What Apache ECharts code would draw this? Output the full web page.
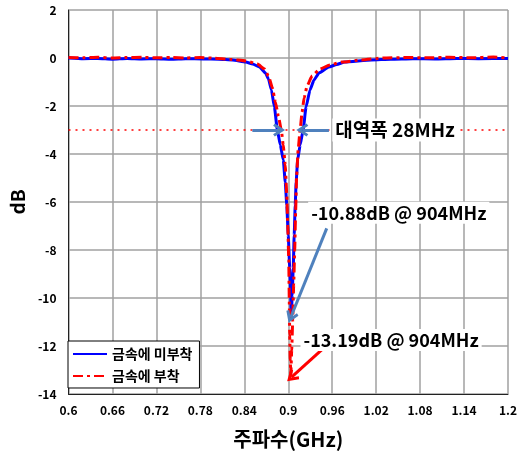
<!DOCTYPE html>
<html>
<head>
<meta charset="utf-8">
<script src="https://cdn.jsdelivr.net/npm/echarts@6/dist/echarts.min.js"></script>
<style>html,body{margin:0;padding:0;background:#fff}#c{width:523px;height:455px}</style>
</head>
<body>
<div id="c"></div>
<script>
// Frequency (GHz) and response (dB)
const freqBlue = [0.60,0.62,0.64,0.66,0.68,0.70,0.72,0.74,0.76,0.784,0.805,0.824,0.842,0.8514,0.8608,0.8689,0.873,0.877,0.8811,0.8851,0.8892,0.8932,0.8959,0.898,0.900,0.902,0.9034,0.904,0.9054,0.9068,0.9081,0.9095,0.9108,0.9128,0.9162,0.9203,0.9243,0.9297,0.9351,0.9419,0.9554,0.9662,0.977,1.0135,1.04,1.07,1.10,1.13,1.16,1.20];
const dbBlue   = [0.00,-0.03,-0.02,-0.05,-0.02,-0.04,-0.03,-0.05,-0.03,-0.04,-0.05,-0.08,-0.17,-0.25,-0.375,-0.625,-0.875,-1.33,-2.04,-3.0,-3.63,-4.25,-5.17,-6.13,-7.38,-8.75,-9.88,-10.88,-9.88,-8.75,-7.38,-6.13,-5.17,-4.25,-3.63,-3.0,-2.04,-1.33,-0.92,-0.625,-0.375,-0.27,-0.17,-0.08,-0.05,-0.03,-0.04,-0.02,-0.03,-0.02];
const freqRed  = [0.60,0.62,0.64,0.66,0.68,0.70,0.72,0.74,0.76,0.78,0.80,0.82,0.8419,0.8581,0.8676,0.873,0.8784,0.8824,0.8865,0.8905,0.8932,0.8959,0.898,0.8993,0.9007,0.9014,0.902,0.9027,0.9035,0.9047,0.9061,0.9074,0.9088,0.9101,0.9115,0.9135,0.9162,0.9189,0.9216,0.9257,0.9324,0.9432,0.9568,0.973,1.0,1.03,1.06,1.09,1.12,1.15,1.18,1.20];
const dbRed    = [0.02,0.01,0.03,0.00,0.02,0.03,0.01,0.02,0.00,0.02,-0.01,-0.05,-0.12,-0.25,-0.46,-0.75,-1.25,-1.83,-2.42,-3.0,-3.63,-4.46,-5.7,-6.96,-8.42,-10.08,-11.54,-12.58,-13.19,-12.17,-10.92,-9.46,-8.0,-6.33,-4.88,-3.83,-3.0,-2.25,-1.67,-1.17,-0.75,-0.46,-0.29,-0.17,-0.08,0.00,0.02,0.01,0.03,0.01,0.04,0.00];
const xTicks = {min:0.6, max:1.2, step:0.06};
const yTicks = {min:-14, max:2, step:2};
const names = ['금속에 미부착','금속에 부착'];
const bandLevel = -3;
const bandEdges = [0.8905, 0.9162];
const labelBand = '대역폭 28MHz';
const labelBlue = '-10.88dB @ 904MHz';
const labelRed  = '-13.19dB @ 904MHz';

const FONT = '"Noto Sans CJK KR", "Noto Sans", sans-serif';
const zip = (a,b) => a.map((v,i)=>[v,b[i]]);
const chev = 'path://M0,12 L10,0 L20,12 L16.5,14 L10,6.5 L3.5,14 Z';

const chart = echarts.init(document.getElementById('c'), null, {renderer:'canvas'});
chart.setOption({
  animation:false,
  backgroundColor:'#fff',
  grid:{left:64, right:15, top:10, bottom:61, containLabel:false},
  legend:{
    orient:'vertical', left:68, top:341,
    data:names,
    itemWidth:34, itemHeight:12, itemGap:8,
    padding:[6,7,5,4],
    borderColor:'#000', borderWidth:1, backgroundColor:'#fff',
    itemStyle:{opacity:0},
    textStyle:{fontFamily:FONT, fontWeight:'bold', fontSize:14, color:'#000'},
    selectedMode:false
  },
  xAxis:{
    type:'value', min:xTicks.min, max:xTicks.max, interval:xTicks.step,
    name:'주파수(GHz)', nameLocation:'middle', nameGap:35,
    nameTextStyle:{fontFamily:FONT, fontWeight:'bold', fontSize:20, color:'#000'},
    axisLine:{show:true, onZero:false, lineStyle:{color:'#222', width:1}},
    axisTick:{show:false},
    axisLabel:{margin:10, fontFamily:FONT, fontWeight:'bold', fontSize:12, color:'#000',
      formatter:v=>String(+v.toFixed(2))},
    splitLine:{show:true, lineStyle:{color:'#a0a0a0', width:1.5}}
  },
  yAxis:{
    type:'value', min:yTicks.min, max:yTicks.max, interval:yTicks.step,
    name:'dB', nameLocation:'middle', nameGap:30,
    nameTextStyle:{fontFamily:FONT, fontWeight:'bold', fontSize:19, color:'#000'},
    axisLine:{show:true, lineStyle:{color:'#222', width:1}},
    axisTick:{show:false},
    axisLabel:{margin:12, fontFamily:FONT, fontWeight:'bold', fontSize:12, color:'#000'},
    splitLine:{show:true, lineStyle:{color:'#a0a0a0', width:1.5}}
  },
  series:[
    {
      name:names[0], type:'line', data:zip(freqBlue,dbBlue),
      symbol:'none', smooth:0.15, smoothMonotone:'x',
      lineStyle:{color:'#0000ff', width:3}, itemStyle:{color:'#0000ff'},
      z:3, silent:true,
      markLine:{
        silent:true, symbol:['none',chev], symbolSize:[13,12],
        label:{show:false},
        data:[
          [{coord:[0.6,bandLevel], symbol:'none', lineStyle:{color:'#ff0000', width:1.5, type:[2,5]}},
           {coord:[1.2,bandLevel], symbol:'none'}],
          [{coord:[0.851,bandLevel], lineStyle:{color:'#4f81bd', width:3, type:'solid'}},
           {coord:[bandEdges[0]-0.003,bandLevel]}],
          [{coord:[0.9555,bandLevel], lineStyle:{color:'#4f81bd', width:3, type:'solid'}},
           {coord:[bandEdges[1]+0.003,bandLevel]}],
          [{coord:[0.9525,-7.1], lineStyle:{color:'#4f81bd', width:3, type:'solid'}},
           {coord:[0.9035,-10.8]}],
          [{coord:[0.946,-12.15], lineStyle:{color:'#ff0000', width:3, type:'solid'}},
           {coord:[0.9045,-13.3]}]
        ]
      },
      markPoint:{
        silent:true, symbol:'rect', symbolSize:1, itemStyle:{color:'rgba(0,0,0,0)'},
        label:{show:true, position:'right', distance:0, color:'#000',
          fontFamily:FONT, fontWeight:'bold', fontSize:17, backgroundColor:'#fff', padding:[2,3]},
        data:[
          {coord:[0.9595,bandLevel], label:{formatter:labelBand, fontSize:19}},
          {coord:[0.9265,-6.45], label:{formatter:labelBlue, fontSize:18}},
          {coord:[0.916,-11.75], label:{formatter:labelRed, fontSize:18}}
        ]
      }
    },
    {
      name:names[1], type:'line', data:zip(freqRed,dbRed),
      symbol:'none', smooth:0.15, smoothMonotone:'x',
      lineStyle:{color:'#ff0000', width:3, type:[10,4,3,4]}, itemStyle:{color:'#ff0000'},
      z:4, silent:true
    }
  ]
});
</script>
</body>
</html>
